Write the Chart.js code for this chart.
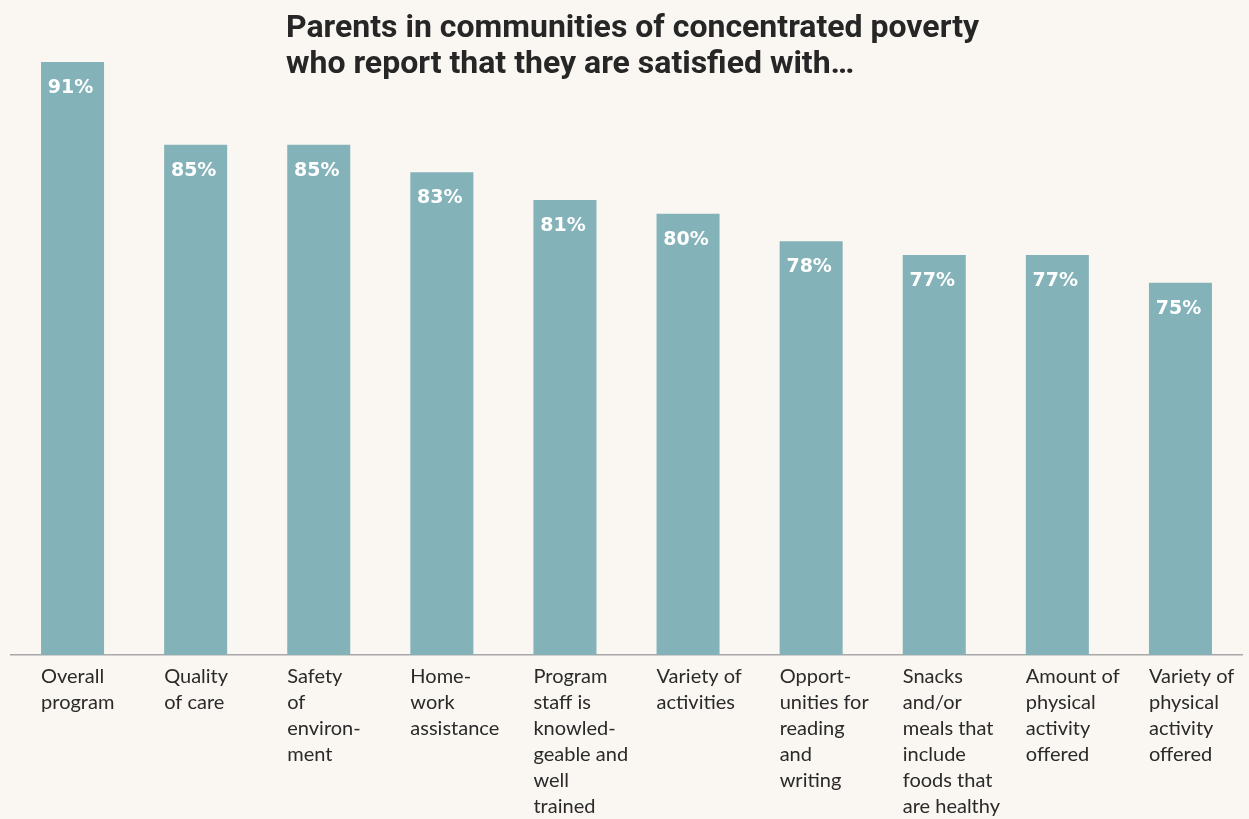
<!DOCTYPE html>
<html>
<head>
<meta charset="utf-8">
<script src="https://cdn.jsdelivr.net/npm/chart.js@4.4.1/dist/chart.umd.min.js"></script>
<style>
  html, body { margin: 0; padding: 0; background: #faf7f2; }
  #wrap { position: relative; width: 1249px; height: 819px; }
  #title {
    position: absolute; left: 286px; top: 8px;
    font-family: Roboto, sans-serif; font-weight: 700; font-size: 32px;
    line-height: 36px; color: #262626;
  }
</style>
</head>
<body>
<div id="wrap">
  <canvas id="chart" width="1249" height="819"></canvas>
  <div id="title">Parents in communities of concentrated poverty<br>who report that they are satisfied with…</div>
</div>
<script>
'use strict';

// カテゴリ（複数行ラベル）
const categories = [
    ['Overall', 'program'],
    ['Quality', 'of care'],
    ['Safety', 'of', 'environ-', 'ment'],
    ['Home-', 'work', 'assistance'],
    ['Program', 'staff is', 'knowled-', 'geable and', 'well', 'trained'],
    ['Variety of', 'activities'],
    ['Opport-', 'unities for', 'reading', 'and', 'writing'],
    ['Snacks', 'and/or', 'meals that', 'include', 'foods that', 'are healthy'],
    ['Amount of', 'physical', 'activity', 'offered'],
    ['Variety of', 'physical', 'activity', 'offered']
];

// 満足している割合 (%)
const satisfied = [91, 85, 85, 83, 81, 80, 78, 77, 77, 75];

// 軸の範囲（元の図は0から始まっていない）
const yMin = 48;
const yMax = 95.5;

const barColor = '#84b2b9';

// バーの上部に白い数値ラベルを描く
const valueLabels = {
    id: 'valueLabels',
    afterDatasetsDraw(chart) {
        const ctx = chart.ctx;
        const meta = chart.getDatasetMeta(0);
        ctx.save();
        ctx.fillStyle = '#ffffff';
        ctx.font = 'bold 19px "DejaVu Sans", sans-serif';
        ctx.textAlign = 'center';
        ctx.textBaseline = 'middle';
        meta.data.forEach((bar, i) => {
            ctx.fillText(satisfied[i] + '%', bar.x - 2, bar.y + 26);
        });
        ctx.restore();
    }
};

new Chart(document.getElementById('chart').getContext('2d'), {
    type: 'bar',
    data: {
        labels: categories,
        datasets: [{
            data: satisfied,
            backgroundColor: barColor,
            borderWidth: 0,
            barPercentage: 0.512,
            categoryPercentage: 1.0
        }]
    },
    options: {
        responsive: false,
        animation: false,
        layout: { padding: { left: 11, right: 7, top: 0, bottom: 0 } },
        scales: {
            x: {
                grid: { display: false, drawTicks: false },
                border: { display: true, color: '#a8a8a8', width: 1.5 },
                ticks: {
                    align: 'start',
                    labelOffset: -31.5,
                    padding: 9,
                    maxRotation: 0,
                    autoSkip: false,
                    color: '#2a2a2a',
                    font: { family: 'Lato, sans-serif', size: 20, lineHeight: 1.3 }
                },
                afterFit(scale) {
                    // 最後のラベルのための余白を取らない
                    scale.height = 164;
                    scale.paddingLeft = 0;
                    scale.paddingRight = 0;
                }
            },
            y: {
                display: false,
                min: yMin,
                max: yMax
            }
        },
        plugins: {
            legend: { display: false },
            tooltip: { enabled: false }
        }
    },
    plugins: [valueLabels]
});
</script>
</body>
</html>
